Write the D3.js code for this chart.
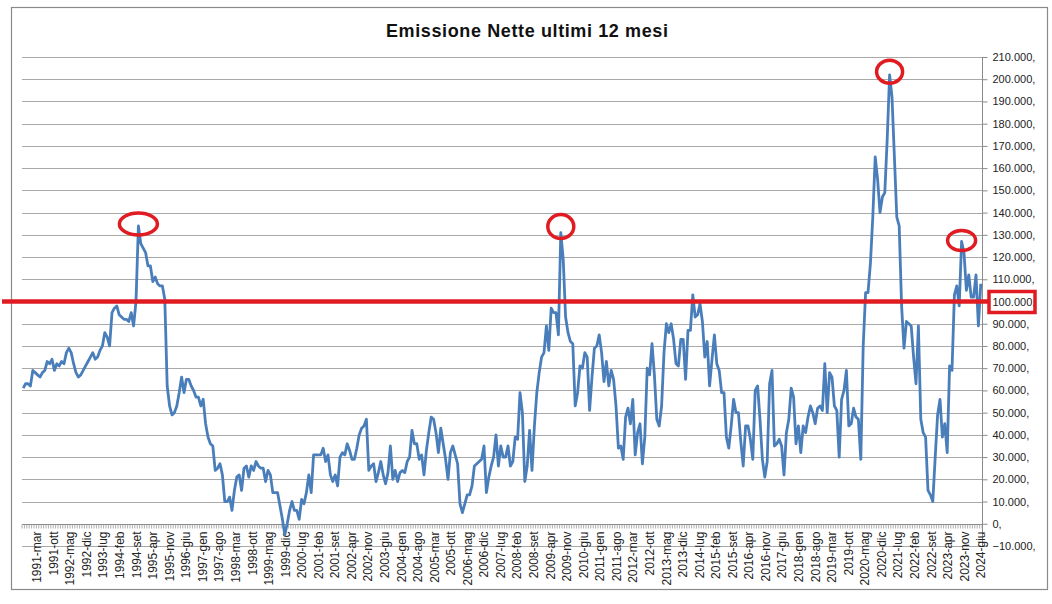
<!DOCTYPE html>
<html>
<head>
<meta charset="utf-8">
<script src="https://cdnjs.cloudflare.com/ajax/libs/d3/7.8.5/d3.min.js"></script>
<style>
  body { margin: 0; background: #fff; }
  svg { display: block; font-family: "Liberation Sans", Arial, sans-serif; }
</style>
</head>
<body>
<svg id="chart" width="1052" height="604"></svg>
<script>
/**
 * Emissione Nette ultimi 12 mesi - line chart
 */

let monthNames = ["gen", "feb", "mar", "apr", "mag", "giu", "lug", "ago", "set", "ott", "nov", "dic"];
let startYear = 1991;
let startMonth = 2; // mar

// monthly values (thousands), 1991-mar .. 2024-giu
let values = [
    61, 63, 63, 62, 69, 68, 67, 66, 68, 69,
    73, 72, 74, 69, 72, 71, 73, 72, 77, 79,
    77, 72, 68, 66, 67, 69, 71, 73, 75, 77,
    74, 75, 78, 80, 86, 84, 80, 95, 97, 98,
    94, 93, 92, 92, 91, 95, 89, 100, 134, 126,
    124, 122, 116, 116, 109, 111, 108, 107, 107, 101,
    62, 53, 49, 50, 53, 59, 66, 59, 65, 65,
    62, 60, 57, 57, 53, 56, 45, 39, 36, 35,
    24, 25, 27, 22, 10, 10, 12, 6, 15, 21,
    22, 15, 25, 26, 21, 26, 24, 28, 26, 25,
    25, 19, 24, 22, 14, 14, 14, 8, 2, -5,
    0, 6, 10, 6, 6, 2, 11, 9, 14, 22,
    14, 31, 31, 31, 31, 34, 28, 31, 22, 19,
    22, 17, 30, 32, 31, 36, 33, 29, 29, 34,
    40, 43, 44, 47, 24, 26, 27, 19, 23, 28,
    22, 18, 23, 35, 20, 24, 19, 23, 24, 23,
    28, 30, 42, 36, 36, 29, 31, 22, 33, 41,
    48, 47, 41, 32, 43, 36, 29, 20, 32, 35,
    31, 27, 9, 5, 9, 13, 13, 17, 26, 27,
    28, 29, 35, 14, 21, 26, 30, 40, 26, 35,
    30, 30, 35, 26, 28, 39, 38, 59, 50, 19,
    26, 42, 24, 44, 59, 68, 75, 77, 89, 78,
    97, 95, 95, 85, 131, 119, 93, 86, 82, 81,
    53, 59, 71, 70, 77, 75, 51, 66, 79, 80,
    85, 77, 64, 73, 62, 69, 65, 53, 34, 35,
    29, 48, 52, 45, 56, 31, 41, 45, 27, 39,
    70, 67, 81, 67, 47, 44, 53, 77, 90, 86,
    90, 83, 72, 71, 83, 83, 65, 87, 87, 103,
    93, 94, 99, 91, 75, 82, 62, 74, 85, 72,
    69, 59, 59, 39, 34, 44, 56, 50, 50, 37,
    26, 44, 44, 38, 29, 60, 62, 47, 29, 21,
    28, 63, 69, 35, 36, 38, 35, 22, 41, 47,
    61, 57, 36, 44, 32, 44, 41, 48, 53, 50,
    45, 52, 53, 51, 72, 50, 68, 66, 53, 51,
    30, 56, 60, 69, 44, 45, 52, 48, 47, 29,
    80, 104, 104, 117, 138, 165, 155, 140, 147, 149,
    173, 202, 192, 165, 138, 134, 98, 79, 91, 90,
    89, 75, 63, 89, 47, 41, 39, 15, 13, 10,
    30, 49, 56, 39, 45, 32, 71, 69, 103, 107,
    98, 127, 122, 105, 112, 102, 102, 112, 89, 108
];

// category labels "yyyy-mmm"
let categories = values.map((d, i) => {
    let m = startMonth + i;
    return (startYear + Math.floor(m / 12)) + "-" + monthNames[m % 12];
});
let labelEvery = 7;
let tickLabels = categories.filter((d, i) => i % labelEvery === 0);

let yTicks = d3.range(-10, 211, 10);
let threshold = 100;
let peakIdx = [48, 224, 361, 391];
let peakRx = [19, 13, 13, 14];
let peakRy = [11, 12, 11.5, 10];
let peakDy = [-2, -6, -3, -1];

let plot = { left: 22, right: 982, top: 57, bottom: 546 };

let svg = d3.select("#chart");

svg.append("rect")
    .attr("x", 11.5).attr("y", 7.5)
    .attr("width", 1036).attr("height", 582)
    .attr("fill", "#fff")
    .attr("stroke", "#8a8a8a")
    .attr("stroke-width", 1.2);

svg.append("text")
    .attr("x", 527).attr("y", 37)
    .attr("text-anchor", "middle")
    .attr("font-size", 18)
    .attr("font-weight", "bold")
    .attr("fill", "#111")
    .attr("textLength", 282)
    .text("Emissione Nette ultimi 12 mesi");

let x = d3.scaleBand()
    .domain(d3.range(values.length))
    .range([plot.left, plot.right]);

let labelX = d3.scalePoint()
    .domain(tickLabels)
    .range([37, 981]);

let y = d3.scaleLinear()
    .domain([-10, 210])
    .range([plot.bottom, plot.top]);

let itFmt = v => v === 0 ? "0," : d3.format(",")(v * 1000).replace(/,/g, ".") + ",";

// horizontal gridlines
svg.append("g")
    .selectAll("line")
    .data(yTicks.filter(d => d !== 0))
    .enter()
    .append("line")
    .attr("x1", plot.left).attr("x2", plot.right)
    .attr("y1", d => Math.round(y(d)) + 0.5)
    .attr("y2", d => Math.round(y(d)) + 0.5)
    .attr("stroke", "#a9a9a9")
    .attr("stroke-width", 1);

// right value axis
let yAxis = d3.axisRight(y)
    .tickValues(yTicks)
    .tickSize(5)
    .tickPadding(5)
    .tickFormat(itFmt);

let gy = svg.append("g")
    .attr("transform", `translate(${plot.right + 0.5},0)`)
    .call(yAxis);
gy.select(".domain").attr("stroke", "#8a8a8a").attr("d", `M0,${plot.top}V${plot.bottom}`);
gy.selectAll(".tick line").attr("stroke", "#8a8a8a");
gy.selectAll(".tick text")
    .attr("font-size", 11)
    .attr("fill", "#222")
    .attr("font-family", "Liberation Sans, Arial, sans-serif");

// category axis at zero
let y0 = Math.round(y(0)) + 0.5;
svg.append("line")
    .attr("x1", plot.left).attr("x2", plot.right)
    .attr("y1", y0).attr("y2", y0)
    .attr("stroke", "#8a8a8a");

svg.append("g")
    .selectAll("line")
    .data(d3.range(values.length + 1))
    .enter()
    .append("line")
    .attr("x1", i => plot.left + i * x.step())
    .attr("x2", i => plot.left + i * x.step())
    .attr("y1", y0).attr("y2", y0 + 4)
    .attr("stroke", "#9a9a9a")
    .attr("stroke-width", 0.8);

svg.append("g")
    .selectAll("text")
    .data(tickLabels)
    .enter()
    .append("text")
    .attr("transform", d => `translate(${labelX(d)},${y0 + 7}) rotate(-90)`)
    .attr("text-anchor", "end")
    .attr("dy", "0.35em")
    .attr("font-size", 12)
    .attr("fill", "#222")
    .text(d => d);

// series line
let line = d3.line()
    .x((d, i) => x(i) + x.bandwidth() / 2)
    .y(d => y(d));

svg.append("path")
    .datum(values)
    .attr("d", line)
    .attr("fill", "none")
    .attr("stroke", "#4a7ebb")
    .attr("stroke-width", 2.8)
    .attr("stroke-linejoin", "round");

// 100.000 reference line and box
let red = "#e01b22";
svg.append("line")
    .attr("x1", 2).attr("x2", 988)
    .attr("y1", y(threshold)).attr("y2", y(threshold))
    .attr("stroke", red)
    .attr("stroke-width", 4.5);

svg.append("rect")
    .attr("x", 989).attr("y", y(threshold) - 10)
    .attr("width", 46).attr("height", 21)
    .attr("fill", "none")
    .attr("stroke", red)
    .attr("stroke-width", 3.5);

// peak circles
svg.append("g")
    .selectAll("ellipse")
    .data(peakIdx)
    .enter()
    .append("ellipse")
    .attr("cx", i => x(i) + x.bandwidth() / 2)
    .attr("cy", (i, k) => y(values[i]) + peakDy[k])
    .attr("rx", (i, k) => peakRx[k])
    .attr("ry", (i, k) => peakRy[k])
    .attr("fill", "none")
    .attr("stroke", red)
    .attr("stroke-width", 3.5);
</script>
</body>
</html>
